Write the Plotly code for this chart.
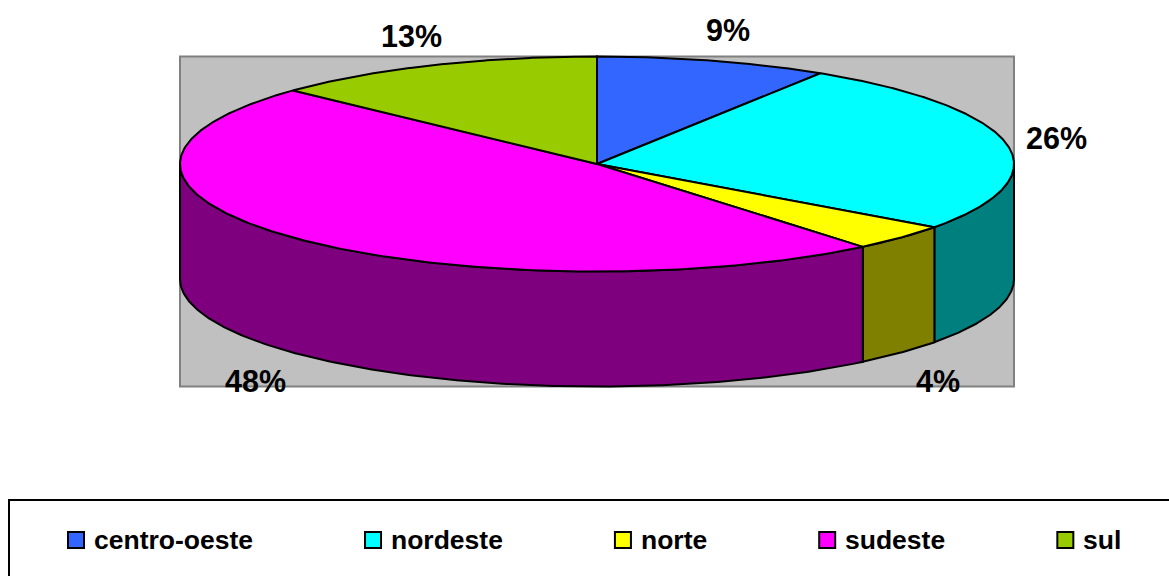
import numpy as np
import plotly.graph_objects as go

# ---- data ----
categories = ["centro-oeste", "nordeste", "norte", "sudeste", "sul"]
values = [9, 26, 4, 48, 13]
pct_labels = ["9%", "26%", "4%", "48%", "13%"]
top_colors = ["#3366FF", "#00FFFF", "#FFFF00", "#FF00FF", "#99CC00"]

# ---- geometry (pixel space) ----
W, H = 1169, 576
CX, CY, RX, RY, DEPTH = 597, 164, 417, 107.5, 115
LRX, LRY = 468, 140          # label ellipse
FONT = "Liberation Sans, Arial, sans-serif"
LEG_FS = 26.5
LAB_FS = 30.5


def ell(theta, dy=0.0, rx=RX, ry=RY):
    t = np.radians(theta)
    return CX + rx * np.sin(t), CY - ry * np.cos(t) + dy


def darken(h):
    h = h.lstrip("#")
    r, g, b = (int(h[i:i + 2], 16) // 2 for i in (0, 2, 4))
    return f"#{r:02x}{g:02x}{b:02x}"


vals = np.array(values, dtype=float)
ang = np.concatenate([[0], np.cumsum(vals / vals.sum() * 360.0)])

fig = go.Figure()

# side walls (front half only)
for i, c in enumerate(categories):
    a0, a1 = ang[i], ang[i + 1]
    lo, hi = max(a0, 90), min(a1, 270)
    if lo >= hi:
        continue
    ts = np.linspace(lo, hi, 200)
    xt, yt = ell(ts)
    xb, yb = ell(ts[::-1], DEPTH)
    xs = np.concatenate([xt, xb, xt[:1]])
    ys = np.concatenate([yt, yb, yt[:1]])
    fig.add_trace(go.Scatter(x=xs, y=ys, mode="lines", fill="toself",
                             fillcolor=darken(top_colors[i]),
                             line=dict(color="black", width=2),
                             hoverinfo="skip", showlegend=False))

# top faces
for i, c in enumerate(categories):
    ts = np.linspace(ang[i], ang[i + 1], 300)
    xa, ya = ell(ts)
    xs = np.concatenate([[CX], xa, [CX]])
    ys = np.concatenate([[CY], ya, [CY]])
    fig.add_trace(go.Scatter(x=xs, y=ys, mode="lines", fill="toself",
                             fillcolor=top_colors[i],
                             line=dict(color="black", width=2),
                             hoverinfo="skip", showlegend=False))

annotations = []
# percentage labels
for i, lab in enumerate(pct_labels):
    m = (ang[i] + ang[i + 1]) / 2
    lx, ly = ell(m, rx=LRX, ry=LRY)
    if np.cos(np.radians(m)) < 0:
        ly += DEPTH + 6
    annotations.append(dict(x=lx, y=ly, xref="x", yref="y", text=lab,
                            showarrow=False, xanchor="center", yanchor="middle",
                            font=dict(family=FONT, size=LAB_FS, color="black",
                                      weight="bold")))

# custom legend (Arial Bold advance widths, per 1000 em)
AW = dict(a=556, b=611, c=556, d=611, e=556, f=333, g=611, h=611, i=278,
          j=278, k=556, l=278, m=889, n=611, o=611, p=611, q=611, r=389,
          s=556, t=333, u=611, v=556, w=778, x=556, y=556, z=500)
AW["-"] = 333
LEG_X0, LEG_Y = 76, 540
SYM_TXT, GAP = 16, 114
lx_sym, lx = [], LEG_X0
for i, c in enumerate(categories):
    lx_sym.append(lx)
    tw = sum(AW.get(ch, 556) for ch in c) / 1000 * LEG_FS
    annotations.append(dict(x=lx + SYM_TXT, y=LEG_Y, xref="x", yref="y", text=c,
                            showarrow=False, xanchor="left", yanchor="middle",
                            font=dict(family=FONT, size=LEG_FS, color="black",
                                      weight="bold")))
    lx = lx + SYM_TXT + tw + GAP + 8

fig.add_trace(go.Scatter(x=lx_sym, y=[LEG_Y] * len(categories), mode="markers",
                         marker=dict(symbol="square", size=16, color=top_colors,
                                     line=dict(color="black", width=2)),
                         hoverinfo="skip", showlegend=False))

shapes = [
    dict(type="rect", xref="x", yref="y", layer="below",
         x0=CX - RX, x1=CX + RX, y0=CY - RY, y1=CY + RY + DEPTH,
         fillcolor="#C0C0C0", line=dict(color="#808080", width=2)),
    dict(type="rect", xref="x", yref="y", layer="below",
         x0=9, x1=W + 20, y0=500, y1=H + 20,
         fillcolor="white", line=dict(color="black", width=2)),
]

fig.update_layout(
    width=W, height=H, margin=dict(l=0, r=0, t=0, b=0),
    paper_bgcolor="white", plot_bgcolor="white",
    xaxis=dict(range=[0, W], visible=False, fixedrange=True),
    yaxis=dict(range=[H, 0], visible=False, fixedrange=True),
    shapes=shapes, annotations=annotations, showlegend=False,
)

fig.write_html("out.html", config={"displayModeBar": False},
               post_script="document.body.style.margin='0px';"
                           "document.body.style.overflow='hidden';")
